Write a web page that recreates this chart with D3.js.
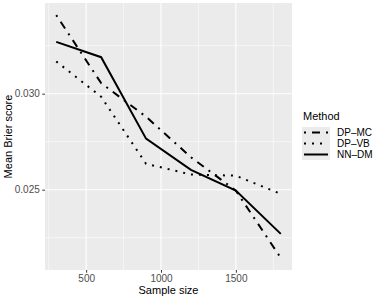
<!DOCTYPE html>
<html>
<head>
<style type="text/css">
body { margin: 0; background: #fff; }
text { font-family: "Liberation Sans", Arial, sans-serif; }
.tick-label { fill: #4D4D4D; font-size: 10px; }
.axis-title { fill: #000; font-size: 11px; }
.legend-label { fill: #000; font-size: 10px; }
.series { fill: none; stroke: #000; stroke-width: 2; }
</style>
<script src="https://d3js.org/d3.v7.min.js"></script>
</head>
<body>
<script type="text/javascript">
var width = 382;
var height = 300;

var sampleSizes = [300, 600, 900, 1200, 1500, 1800];
var methods = ["DP–MC", "DP–VB", "NN–DM"];
var dpmc = [0.03409, 0.03055, 0.02880, 0.02669, 0.02495, 0.02145];
var dpvb = [0.03168, 0.02984, 0.02635, 0.02579, 0.02573, 0.02478];
var nndm = [0.03270, 0.03190, 0.02766, 0.02603, 0.02495, 0.02270];
var xTicks = [500, 1000, 1500];
var yTicks = [0.025, 0.030];
var yMinor = [0.0225, 0.0275, 0.0325];
var xMinor = [250, 750, 1250, 1750];

var dashes = ["2,6,8,6", "2,6", null];
var seriesValues = [dpmc, dpvb, nndm];

var panel = { left: 45, right: 292, top: 3, bottom: 270 };

var svg = d3.select("body").append("svg").attr("width", width).attr("height", height);

var xExt = d3.extent(sampleSizes);
var xPad = (xExt[1] - xExt[0]) * 0.05;
var x = d3.scaleLinear().domain([xExt[0] - xPad, xExt[1] + xPad]).range([panel.left, panel.right]);

var allY = dpmc.concat(dpvb, nndm);
var yExt = d3.extent(allY);
var yPad = (yExt[1] - yExt[0]) * 0.05;
var y = d3.scaleLinear().domain([yExt[0] - yPad, yExt[1] + yPad]).range([panel.bottom, panel.top]);

// panel background
svg.append("rect")
	.attr("x", panel.left).attr("y", panel.top)
	.attr("width", panel.right - panel.left).attr("height", panel.bottom - panel.top)
	.attr("fill", "#EBEBEB");

// minor grid
svg.selectAll(".ygm").data(yMinor).enter().append("line")
	.attr("x1", panel.left).attr("x2", panel.right)
	.attr("y1", function(d) { return y(d); }).attr("y2", function(d) { return y(d); })
	.attr("stroke", "#fff").attr("stroke-width", 0.55);
svg.selectAll(".xgm").data(xMinor).enter().append("line")
	.attr("y1", panel.top).attr("y2", panel.bottom)
	.attr("x1", function(d) { return x(d); }).attr("x2", function(d) { return x(d); })
	.attr("stroke", "#fff").attr("stroke-width", 0.55);

// major grid
svg.selectAll(".yg").data(yTicks).enter().append("line")
	.attr("x1", panel.left).attr("x2", panel.right)
	.attr("y1", function(d) { return y(d); }).attr("y2", function(d) { return y(d); })
	.attr("stroke", "#fff").attr("stroke-width", 1.1);
svg.selectAll(".xg").data(xTicks).enter().append("line")
	.attr("y1", panel.top).attr("y2", panel.bottom)
	.attr("x1", function(d) { return x(d); }).attr("x2", function(d) { return x(d); })
	.attr("stroke", "#fff").attr("stroke-width", 1.1);

// axes
var xAxis = svg.append("g")
	.attr("transform", "translate(0," + panel.bottom + ")")
	.call(d3.axisBottom(x).tickValues(xTicks).tickSize(2.7).tickPadding(2.5).tickFormat(d3.format("d")));
var yAxis = svg.append("g")
	.attr("transform", "translate(" + panel.left + ",0)")
	.call(d3.axisLeft(y).tickValues(yTicks).tickSize(2.7).tickPadding(2.5).tickFormat(d3.format(".3f")));
[xAxis, yAxis].forEach(function(a) {
	a.select(".domain").remove();
	a.selectAll(".tick line").attr("stroke", "#333333").attr("stroke-width", 1);
	a.selectAll(".tick text").attr("class", "tick-label").attr("font-family", null).attr("font-size", null);
});

// lines
var line = d3.line()
	.x(function(d, i) { return x(sampleSizes[i]); })
	.y(function(d) { return y(d); });

seriesValues.forEach(function(vals, k) {
	svg.append("path").datum(vals)
		.attr("class", "series")
		.attr("stroke-dasharray", dashes[k])
		.attr("d", line);
});

// axis titles
svg.append("text").attr("class", "axis-title")
	.attr("x", (panel.left + panel.right) / 2).attr("y", 294)
	.attr("text-anchor", "middle").text("Sample size");
svg.append("text").attr("class", "axis-title")
	.attr("transform", "translate(12," + ((panel.top + panel.bottom) / 2) + ") rotate(-90)")
	.attr("text-anchor", "middle").text("Mean Brier score");

// legend
var legend = svg.append("g").attr("transform", "translate(302,127)");
legend.append("text").attr("class", "axis-title").attr("x", 1).attr("y", -7).text("Method");
var rowH = 11;
methods.forEach(function(m, k) {
	var g = legend.append("g").attr("transform", "translate(0," + (k * rowH) + ")");
	g.append("rect").attr("x", 0).attr("y", 0).attr("width", 28).attr("height", rowH).attr("fill", "#EBEBEB");
	g.append("line").attr("x1", 2).attr("x2", 26).attr("y1", rowH / 2).attr("y2", rowH / 2)
		.attr("stroke", "#000").attr("stroke-width", 2).attr("stroke-dasharray", dashes[k]);
	g.append("text").attr("class", "legend-label")
		.attr("x", 35).attr("y", rowH / 2).attr("dy", "0.35em").text(m);
});
</script>
</body>
</html>
